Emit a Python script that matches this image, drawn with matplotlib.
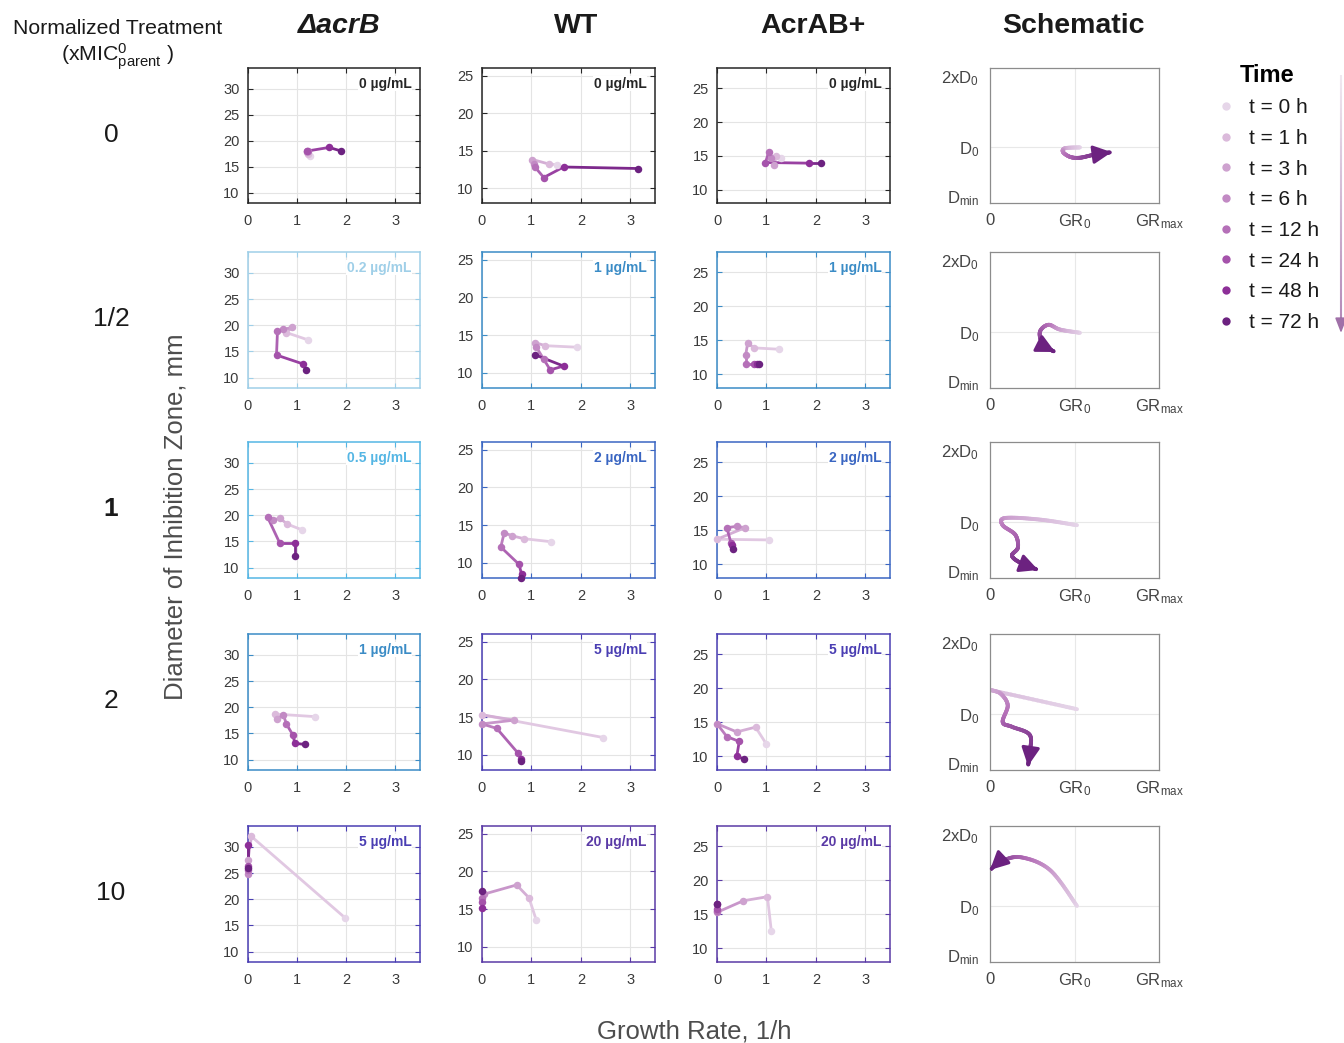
import numpy as np
import matplotlib
matplotlib.use('Agg')
import matplotlib.pyplot as plt
from matplotlib.collections import LineCollection
from matplotlib.colors import LinearSegmentedColormap, to_rgb
from matplotlib.lines import Line2D

plt.rcParams['font.family'] = ['Liberation Sans', 'DejaVu Sans']
plt.rcParams['mathtext.fontset'] = 'custom'
plt.rcParams['mathtext.rm'] = 'Liberation Sans'
plt.rcParams['mathtext.it'] = 'Liberation Sans:italic'
plt.rcParams['mathtext.bf'] = 'Liberation Sans:bold'

# ---------------- data ----------------
times = [0, 1, 3, 6, 12, 24, 48, 72]
time_colors = ['#e6d6e9', '#dbbadb', '#cea2cf', '#c28ac4', '#b570b8', '#a553ab', '#8d2f98', '#6c2280']

strain_titles = ['ΔacrB', 'WT', 'AcrAB+']
row_labels = ['0', '1/2', '1', '2', '10']

conc_dacrB = ['0', '0.2', '0.5', '1', '5']
conc_wt = ['0', '1', '2', '5', '20']
conc_acrab = ['0', '1', '2', '5', '20']
conc_colors = {'0': '#262626', '0.2': '#9fcfe8', '0.5': '#55b6e4', '1': '#3b8cc6',
               '2': '#3a66c2', '5': '#4a3eb3', '20': '#5a3aa6'}

gr_dacrB = [[1.27, 1.23, 1.20, 1.20, 1.22, 1.20, 1.65, 1.90],
            [1.22, 0.78, 0.90, 0.72, 0.60, 0.58, 1.12, 1.18],
            [1.10, 0.80, 0.65, 0.50, 0.40, 0.65, 0.95, 0.95],
            [1.37, 0.55, 0.60, 0.72, 0.78, 0.92, 0.95, 1.15],
            [1.98, 0.07, 0.00, 0.00, 0.00, 0.00, 0.00, 0.00]]
dz_dacrB = [[17.0, 17.5, 17.8, 18.0, 18.1, 18.0, 18.7, 18.0],
            [17.2, 18.6, 19.6, 19.2, 18.9, 14.3, 12.6, 11.4],
            [17.2, 18.3, 19.4, 19.1, 19.6, 14.6, 14.6, 12.3],
            [18.2, 18.7, 17.8, 18.6, 16.8, 14.6, 13.1, 12.9],
            [16.4, 32.0, 27.5, 24.8, 25.5, 26.3, 30.3, 26.0]]

gr_wt = [[1.52, 1.35, 1.02, 1.05, 1.07, 1.25, 1.65, 3.15],
         [1.92, 1.28, 1.08, 1.10, 1.25, 1.38, 1.65, 1.07],
         [1.40, 0.85, 0.60, 0.45, 0.38, 0.75, 0.80, 0.78],
         [2.45, 0.00, 0.65, 0.00, 0.30, 0.72, 0.78, 0.78],
         [1.10, 0.95, 0.70, 0.05, 0.00, 0.00, 0.00, 0.00]]
dz_wt = [[13.1, 13.2, 13.8, 13.2, 12.8, 11.4, 12.8, 12.6],
         [13.4, 13.6, 14.0, 13.4, 11.8, 10.4, 10.9, 12.4],
         [12.8, 13.2, 13.6, 14.0, 12.1, 9.8, 8.5, 8.0],
         [12.3, 15.3, 14.6, 14.1, 13.5, 10.3, 9.5, 9.2],
         [13.5, 16.5, 18.2, 17.0, 16.5, 16.0, 15.2, 17.4]]

gr_acrab = [[1.30, 1.20, 1.15, 1.10, 1.05, 0.98, 1.87, 2.10],
            [1.25, 0.75, 0.62, 0.58, 0.58, 0.75, 0.80, 0.85],
            [1.05, 0.00, 0.57, 0.40, 0.20, 0.28, 0.30, 0.33],
            [1.00, 0.78, 0.40, 0.00, 0.20, 0.45, 0.40, 0.55],
            [1.10, 1.02, 0.53, 0.00, 0.00, 0.00, 0.00, 0.00]]
dz_acrab = [[14.6, 15.0, 13.6, 14.6, 15.6, 14.0, 13.9, 13.9],
            [13.7, 13.9, 14.6, 12.8, 11.6, 11.6, 11.6, 11.6],
            [13.6, 13.7, 15.4, 15.6, 15.4, 13.2, 12.8, 12.3],
            [11.8, 14.3, 13.6, 14.8, 12.9, 12.2, 10.0, 9.6],
            [12.5, 17.6, 17.0, 15.3, 15.5, 15.8, 16.5, 16.5]]

ylims = [(8, 34), (8, 26), (8, 28)]
yticks = [[10, 15, 20, 25, 30], [10, 15, 20, 25], [10, 15, 20, 25]]
xticks = [0, 1, 2, 3]

# schematic waypoints (GR in units of GR0, D in units of D0)
sch_x = [[1.065, 0.89, 0.865, 0.95, 1.065, 1.24, 1.44],
         [1.065, 0.83, 0.69, 0.59, 0.63, 0.77],
         [1.03, 0.59, 0.18, 0.15, 0.30, 0.33, 0.26, 0.36, 0.57],
         [1.03, 0.00, 0.12, 0.21, 0.15, 0.26, 0.47, 0.47, 0.45],
         [1.03, 0.71, 0.36, 0.12, 0.00]]
sch_y = [[1.00, 0.99, 0.94, 0.88, 0.87, 0.91, 0.94],
         [0.99, 1.03, 1.09, 1.00, 0.84, 0.75],
         [0.96, 1.03, 1.05, 0.96, 0.84, 0.68, 0.58, 0.49, 0.40],
         [1.06, 1.30, 1.26, 1.11, 0.90, 0.84, 0.74, 0.52, 0.35],
         [1.00, 1.45, 1.61, 1.55, 1.45]]
sch_xticks = [0, 1, 2]
sch_xlabels = ['0', r'GR$_{\mathrm{0}}$', r'GR$_{\mathrm{max}}$']
sch_yticks = [0.39, 1, 1.9]
sch_ylabels = [r'D$_{\mathrm{min}}$', r'D$_{\mathrm{0}}$', r'2xD$_{\mathrm{0}}$']

# ---------------- layout ----------------
W, H = 1344, 1043
fig = plt.figure(figsize=(W / 100, H / 100), dpi=100)
cols = [(248, 420), (482, 655), (717, 890), (990, 1159)]
rows = [(68, 203), (252, 388), (442, 578), (634, 770), (826, 962)]


def axrect(c, r):
    x0, x1 = c
    y0, y1 = r
    return [x0 / W, 1 - y1 / H, (x1 - x0) / W, (y1 - y0) / H]


def blend(c1, c2):
    a, b = np.array(to_rgb(c1)), np.array(to_rgb(c2))
    return tuple((a + b) / 2)


gr_all = [gr_dacrB, gr_wt, gr_acrab]
dz_all = [dz_dacrB, dz_wt, dz_acrab]
conc_all = [conc_dacrB, conc_wt, conc_acrab]
tick_gray = '#3a3a3a'

for ri in range(5):
    for ci in range(3):
        ax = fig.add_axes(axrect(cols[ci], rows[ri]))
        gx = gr_all[ci][ri]
        gy = dz_all[ci][ri]
        conc = conc_all[ci][ri]
        ec = conc_colors[conc]
        for k in range(len(gx) - 1):
            ax.plot(gx[k:k + 2], gy[k:k + 2], '-', color=blend(time_colors[k], time_colors[k + 1]),
                    lw=2.0, solid_capstyle='round', zorder=3, clip_on=False)
        for k in range(len(gx)):
            ax.plot(gx[k], gy[k], 'o', ms=5.4, color=time_colors[k], mec='none', zorder=4, clip_on=False)
        ax.set_xlim(0, 3.5)
        ax.set_ylim(*ylims[ci])
        ax.set_xticks(xticks)
        ax.set_yticks(yticks[ci])
        ax.grid(True, color='#e4e4e4', lw=0.8, zorder=0)
        ax.set_axisbelow(True)
        ax.tick_params(direction='in', length=3.5, width=0.8, top=True, right=True,
                       colors=ec, labelcolor=tick_gray, labelsize=10.5)
        ax.tick_params(axis='x', pad=8)
        ax.tick_params(axis='y', pad=6)
        for sp in ax.spines.values():
            sp.set_color(ec)
            sp.set_linewidth(1.1)
        ax.text(0.95, 0.885, f'{conc} µg/mL', transform=ax.transAxes, ha='right', va='center',
                fontsize=10, fontweight='bold', color=ec, zorder=5,
                bbox=dict(facecolor='white', edgecolor='none', pad=0.5))

# schematic panels
cmap = LinearSegmentedColormap.from_list(
    'tp', [(0.0, time_colors[0]), (0.45, time_colors[4]), (1.0, time_colors[-1])])


def catmull(px, py, n=24):
    P = np.column_stack([px, py]).astype(float)
    P = np.vstack([P[0], P, P[-1]])
    out = []
    t = np.linspace(0, 1, n, endpoint=False)[:, None]
    for i in range(1, len(P) - 2):
        p0, p1, p2, p3 = P[i - 1], P[i], P[i + 1], P[i + 2]
        out.append(0.5 * ((2 * p1) + (-p0 + p2) * t + (2 * p0 - 5 * p1 + 4 * p2 - p3) * t ** 2
                          + (-p0 + 3 * p1 - 3 * p2 + p3) * t ** 3))
    out.append(P[-2][None])
    return np.vstack(out)


for ri in range(5):
    ax = fig.add_axes(axrect(cols[3], rows[ri]))
    ax.set_xlim(0, 2)
    ax.set_ylim(0.3, 2)
    ax.set_xticks(sch_xticks)
    ax.set_xticklabels(sch_xlabels)
    ax.set_yticks(sch_yticks)
    ax.set_yticklabels(sch_ylabels)
    ax.tick_params(length=0, labelsize=12, labelcolor='#444444')
    ax.tick_params(axis='x', pad=7)
    ax.tick_params(axis='y', pad=8)
    ax.axhline(1, color='#e8e8e8', lw=0.8, zorder=0)
    ax.axvline(1, color='#e8e8e8', lw=0.8, zorder=0)
    for sp in ax.spines.values():
        sp.set_color('#8c8c8c')
        sp.set_linewidth(0.9)
    pts = catmull(sch_x[ri], sch_y[ri])
    tip = pts[-1]
    base = pts[-6]
    seg_pts = pts[:-4]
    segs = np.stack([seg_pts[:-1], seg_pts[1:]], axis=1)
    lc = LineCollection(segs, cmap=cmap, linewidths=2.8, capstyle='round')
    lc.set_array(np.linspace(0, 1, len(segs)))
    ax.add_collection(lc)
    ax.annotate('', xy=tip, xytext=base,
                arrowprops=dict(arrowstyle='-|>,head_length=1.0,head_width=0.5', mutation_scale=11,
                                color=time_colors[-1], lw=2.2, shrinkA=0, shrinkB=0),
                annotation_clip=False)

# column titles
title_x = [339, 576, 813, 1073]
for tx, tt in zip(title_x, strain_titles + ['Schematic']):
    style = 'italic' if tt == 'ΔacrB' else 'normal'
    fig.text(tx / W, 1 - 26 / H, tt, ha='center', va='center', fontsize=20.5, fontweight='bold',
             fontstyle=style, color='#1a1a1a')

fig.text(118 / W, 1 - 29 / H, 'Normalized Treatment', ha='center', va='center', fontsize=15.3, color='#1a1a1a')
fig.text(118 / W, 1 - 57 / H, r'(xMIC$^{\mathrm{0}}_{\mathrm{parent}}$ )', ha='center', va='center',
         fontsize=15.3, color='#1a1a1a')

for ri, lab in enumerate(row_labels):
    yc = (rows[ri][0] + rows[ri][1]) / 2
    fig.text(111 / W, 1 - (yc - 1) / H, lab, ha='center', va='center', fontsize=19,
             fontweight='bold' if lab == '1' else 'normal', color='#1a1a1a')

fig.text(175 / W, 1 - 517 / H, 'Diameter of Inhibition Zone, mm', rotation=90, ha='center', va='center',
         fontsize=18.5, color='#4d4d4d')
fig.text(694 / W, 1 - 1031 / H, 'Growth Rate, 1/h', ha='center', va='center', fontsize=18.5, color='#4d4d4d')

# legend
handles = [Line2D([], [], ls='none', marker='o', ms=6, color=c, mec='none') for c in time_colors]
labels = [f't = {t} h' for t in times]
leg = fig.legend(handles, labels, loc='upper left', bbox_to_anchor=(1195 / W, 1 - 45 / H), frameon=False,
                 title='Time', fontsize=15, title_fontproperties={'weight': 'bold', 'size': 17},
                 handletextpad=0.5, labelspacing=0.56, handlelength=1.2)
for txt in leg.get_texts():
    txt.set_color('#1a1a1a')

# time arrow at right edge
ov = fig.add_axes([0, 0, 1, 1])
ov.set_xlim(0, W)
ov.set_ylim(H, 0)
ov.axis('off')
yy = np.linspace(75, 322, 60)
segs = np.stack([np.column_stack([np.full(59, 1341.0), yy[:-1]]),
                 np.column_stack([np.full(59, 1341.0), yy[1:]])], axis=1)
lc2 = LineCollection(segs, cmap=LinearSegmentedColormap.from_list('g', ['#f0e8f0', '#b48ab8']), linewidths=1.5)
lc2.set_array(np.linspace(0, 1, 59))
ov.add_collection(lc2)
ov.annotate('', xy=(1341, 333), xytext=(1341, 318),
            arrowprops=dict(arrowstyle='-|>,head_length=0.9,head_width=0.35', mutation_scale=10,
                            color='#a070a8', lw=1.2, shrinkA=0, shrinkB=0))

fig.savefig('out.png', dpi=100)
